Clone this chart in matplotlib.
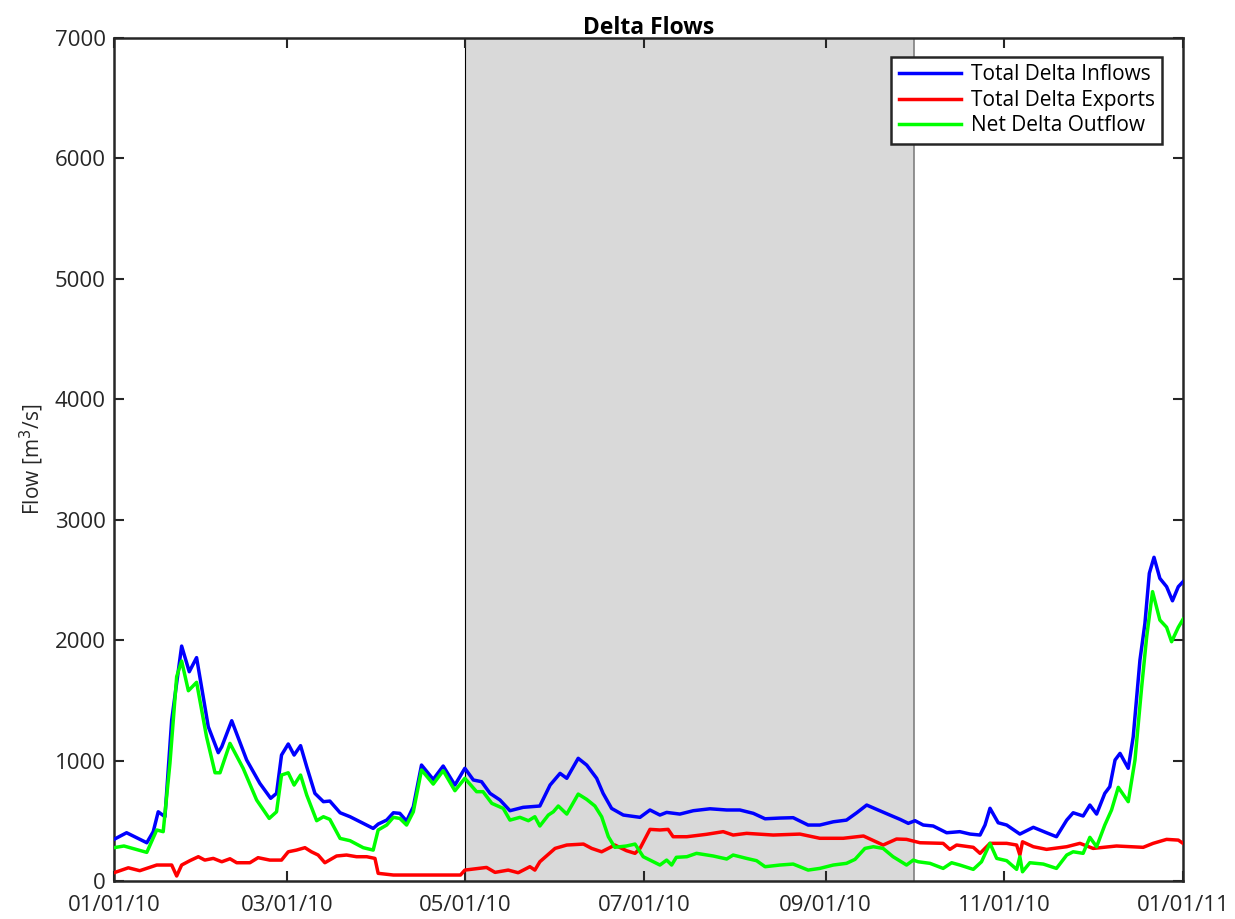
import datetime as dt
import matplotlib
matplotlib.use("Agg")
import matplotlib.pyplot as plt
import matplotlib.dates as mdates

plt.rcParams['font.family'] = ['Open Sans', 'DejaVu Sans']

# Day offsets from 2010-01-01 and flows (m^3/s)
inflow_days = [0, 4.3, 11.2, 13.4, 15.1, 17.4, 19.7, 23.1, 25.7, 28.2, 32.2, 35.6, 36.8, 40.2,
               45.3, 49.8, 53.5, 55.5, 57.2, 59.5, 61.5, 63.7, 65.8, 68.6, 71.5, 73.7, 77.2,
               80.6, 85.1, 88.5, 90.2, 93.1, 95.4, 97.6, 99.9, 102.2, 105, 109, 112.4, 116.4,
               119.8, 122.7, 125.5, 128.4, 131.8, 135.2, 139.7, 145.4, 148.9, 152.3, 154.6,
               158.5, 161.4, 164.8, 167, 169.9, 173.9, 179.6, 183, 186.4, 188.7, 193.2, 197.8,
               203.5, 209.2, 213.7, 218.3, 222.3, 227.4, 231.9, 237, 241, 245.6, 250.1, 253.6,
               257, 260.4, 264.9, 268.4, 271.2, 273.5, 276.3, 279.7, 284.3, 288.8, 292.3,
               295.7, 297.4, 299.1, 301.9, 304.8, 309.3, 313.9, 318.4, 321.8, 325.3, 327.5,
               330.9, 333.2, 335.5, 338.3, 340, 341.8, 343.5, 346.3, 348, 350.3, 352, 353.5,
               355.1, 357.1, 359.4, 361.4, 363.4, 365]
inflow = [346, 401, 318, 410, 575, 534, 1337, 1951, 1738, 1855, 1281, 1066, 1115, 1331,
          1005, 811, 687, 728, 1046, 1138, 1046, 1124, 949, 728, 659, 664, 567,
          534, 479, 437, 473, 506, 567, 562, 498, 617, 963, 844, 955, 797,
          936, 839, 825, 728, 673, 584, 612, 623, 797, 894, 853,
          1019, 963, 853, 728, 603, 548, 529, 590, 548, 570, 556, 584,
          600, 590, 590, 562, 517, 523, 526, 465, 465, 492, 506, 567,
          631, 595, 548, 512, 479, 501, 465, 457, 401, 410, 390,
          382, 465, 604, 484, 465, 390, 446, 401, 368, 506, 567,
          540, 631, 556, 728, 783, 1005, 1060, 936, 1198, 1835, 2140, 2555,
          2688, 2513, 2444, 2327, 2444, 2485]

export_days = [0, 4.9, 8.8, 14.6, 19.7, 21.4, 23.1, 25.9, 28.8, 31, 33.9, 36.8, 39.6, 41.9,
               46.4, 49.2, 53.2, 57.2, 59.5, 62.3, 65.2, 67.4, 69.7, 72, 76, 79.4, 82.8, 86.3,
               89.1, 90.2, 95.4, 106.8, 118.3, 119.8, 127.2, 130.1, 134.6, 138, 142, 143.7,
               145.4, 150.6, 154.6, 160.3, 163.1, 166.5, 171, 175, 177.9, 179.6, 183, 186.4,
               189.2, 190.9, 195.6, 202.3, 208, 211.4, 216, 225.1, 234.2, 241, 249, 255.9,
               262.6, 267.2, 270.6, 275.2, 283.1, 285.4, 287.7, 293.4, 295.7, 299.1, 304.8,
               308.2, 309.3, 310.2, 313.9, 318.4, 325.3, 329.8, 334.3, 342.3, 351.4, 354.8,
               359.4, 363.4, 365]
exports = [69, 110, 86, 133, 133, 42, 133, 169, 202, 174, 188, 160, 185, 152,
           152, 194, 174, 174, 243, 257, 277, 243, 216, 152, 208, 216, 202, 202,
           188, 64, 50, 50, 50, 91, 113, 72, 91, 69, 119, 91,
           160, 271, 299, 307, 271, 243, 299, 252, 230, 271, 429, 424,
           429, 368, 368, 388, 410, 382, 396, 382, 390, 355, 355, 374,
           299, 349, 346, 318, 313, 263, 299, 280, 230, 313, 313,
           299, 216, 326, 285, 263, 285, 313, 271, 291, 280, 313,
           346, 340, 313]

outflow_days = [0, 3.4, 11.2, 14.6, 16.8, 19.1, 21.4, 23.1, 25.4, 28.2, 31.6, 34.5, 36.2, 39.6,
                44.1, 48.7, 53, 55.5, 57.2, 59.5, 61.5, 63.7, 65.8, 69.2, 71.5, 73.7, 77.2,
                80.6, 85.1, 88.5, 90.2, 93.1, 95.4, 97.6, 99.9, 102.2, 105, 109, 112.4, 116.4,
                119.8, 123.8, 126, 129, 132.9, 135.2, 138.6, 141.5, 143.7, 145.4, 148.3, 150,
                151.7, 154.6, 158.5, 161.4, 164.2, 166.5, 168.8, 171, 175, 177.9, 180.7, 186.4,
                188.7, 190.4, 192, 195.6, 198.9, 204.6, 209.2, 211.4, 216, 219.4, 222.3, 227.4,
                231.9, 237, 241, 245.6, 250.1, 253, 256.4, 259.3, 262.6, 266, 270.6, 272.9,
                274.6, 278.6, 283.1, 286, 288.8, 293.4, 296.2, 299.1, 301.4, 304.8, 308.2,
                309.3, 310.2, 312.7, 317.3, 321.8, 325.3, 327.5, 330.9, 333.2, 335.5, 338.3,
                340.6, 342.9, 346.3, 348.6, 350.9, 352.6, 354.6, 357.1, 359.4, 361.1, 363.4, 365]
outflow = [277, 291, 238, 424, 410, 977, 1697, 1827, 1580, 1650, 1198, 899, 899, 1143,
           936, 673, 520, 575, 880, 899, 797, 880, 714, 501, 534, 512, 354,
           335, 277, 257, 424, 465, 529, 520, 465, 575, 922, 805, 916, 750,
           853, 742, 742, 645, 603, 506, 529, 501, 534, 457, 548, 575,
           623, 556, 722, 678, 623, 534, 368, 280, 291, 307, 202, 133,
           174, 133, 197, 202, 230, 208, 183, 216, 188, 169, 119, 133,
           141, 91, 105, 133, 147, 180, 271, 285, 271, 202, 133, 174,
           160, 147, 105, 152, 133, 97, 160, 313, 188, 169, 97,
           202, 77, 152, 141, 105, 216, 243, 230, 363, 285, 465,
           590, 778, 659, 1005, 1614, 2029, 2403, 2167, 2107, 1987, 2107, 2173]

start = dt.datetime(2010, 1, 1)
to_dates = lambda ds: [start + dt.timedelta(days=d) for d in ds]
tick_dates = [dt.datetime(2010, m, 1) for m in (1, 3, 5, 7, 9, 11)] + [dt.datetime(2011, 1, 1)]
shade_start = dt.datetime(2010, 5, 1)
shade_end = dt.datetime(2010, 10, 1)

fig = plt.figure(figsize=(12.35, 9.19), dpi=100)
ax = fig.add_axes([0.0923, 0.0413, 0.8656, 0.9174])

ax.axvspan(shade_start, shade_end, facecolor='#d9d9d9', edgecolor='none', zorder=0)
ax.axvline(shade_start, color='black', lw=0.8, zorder=1)
ax.axvline(shade_end, color='#808080', lw=1.2, zorder=1)

ax.plot(to_dates(inflow_days), inflow, color='#0000ff', lw=2.5, label='Total Delta Inflows', zorder=3)
ax.plot(to_dates(export_days), exports, color='#ff0000', lw=2.5, label='Total Delta Exports', zorder=3)
ax.plot(to_dates(outflow_days), outflow, color='#00ff00', lw=2.5, label='Net Delta Outflow', zorder=3)

ax.set_xlim(start, dt.datetime(2011, 1, 1))
ax.set_ylim(0, 7000)
ax.set_xticks(tick_dates)
ax.xaxis.set_major_formatter(mdates.DateFormatter('%m/%d/%y'))
ax.set_yticks(range(0, 7001, 1000))
ax.tick_params(direction='in', length=7, width=1.5, labelsize=16, top=True, right=True,
               colors='#262626', labelcolor='#262626')
ax.tick_params(axis='y', pad=6)
ax.tick_params(axis='x', pad=10)
for s in ax.spines.values():
    s.set_linewidth(1.8)
    s.set_color('#262626')

ax.set_ylabel('Flow [m$^3$/s]', fontsize=15, color='#262626', labelpad=6)
ax.set_title('Delta Flows', fontsize=16.5, fontweight='bold', pad=3)

leg = ax.legend(loc='upper right', bbox_to_anchor=(0.9803, 0.9775), fontsize=15,
                fancybox=False, framealpha=1, edgecolor='#262626', handlelength=3.0,
                borderpad=0.35, labelspacing=0.22, handletextpad=0.45, borderaxespad=0)
leg.get_frame().set_linewidth(1.8)

fig.savefig('out.png', dpi=100)
